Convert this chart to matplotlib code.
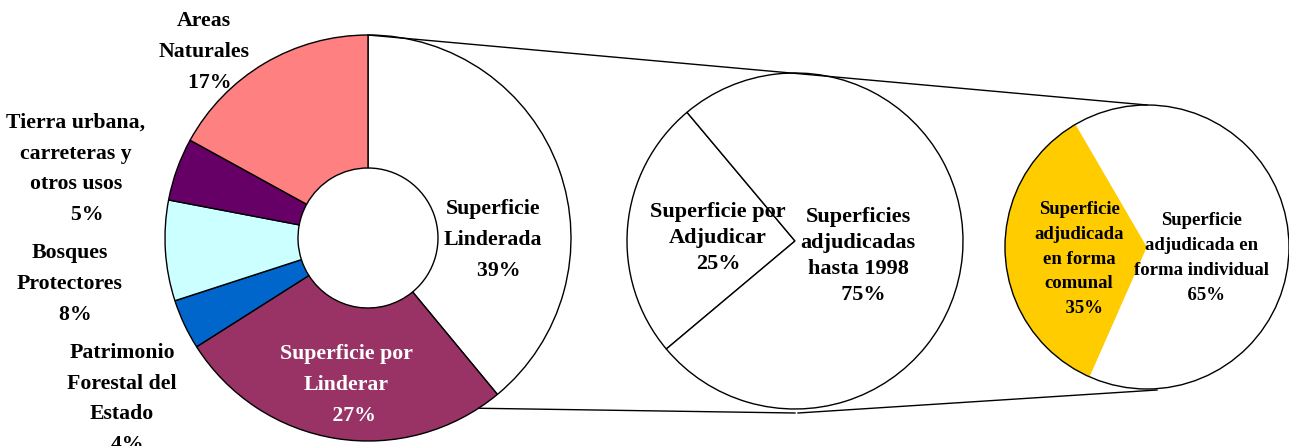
#
# Land tenure breakdown: donut of total surface, with two exploded pies
# detailing the demarcated surface and the adjudicated surface.
#

import matplotlib.pyplot as plt
import numpy as np

plt.rcParams['font.family'] = ['Liberation Serif', 'DejaVu Serif']
plt.rcParams['font.weight'] = 'bold'

# total surface by use (clockwise from 12 o'clock)
land_labels = ['Superficie\nLinderada', 'Superficie por\nLinderar',
               'Patrimonio\nForestal del\nEstado', 'Bosques\nProtectores',
               'Tierra urbana,\ncarreteras y\notros usos', 'Areas\nNaturales']
land_share = [39, 27, 4, 8, 5, 17]
land_colors = ['white', '#993366', '#0066CC', '#CCFFFF', '#660066', '#FF8080']

# demarcated surface
demarc_labels = ['Superficie por\nAdjudicar', 'Superficies\nadjudicadas\nhasta 1998']
demarc_share = [25, 75]

# adjudicated surface
adjud_labels = ['Superficie\nadjudicada\nen forma\ncomunal', 'Superficie\nadjudicada en\nforma individual']
adjud_share = [35, 65]
adjud_colors = ['#FFCC00', 'white']

W, H = 1289, 446
fig = plt.figure(figsize=(W / 100, H / 100), dpi=100)
ax = fig.add_axes([0, 0, 1, 1])

# pie centres and radii in pixel units (y up)
c1, r1, hole = (368, H - 238), 203, 70
c2, r2 = (795, H - 241), 168
c3, r3 = (1147, H - 247), 142

edge = dict(edgecolor='black', linewidth=1.0)

ax.pie(land_share, colors=land_colors, center=c1, radius=r1, startangle=90,
       counterclock=False, wedgeprops=dict(width=r1 - hole, **edge))
ax.pie(demarc_share, colors=['white', 'white'], center=c2, radius=r2,
       startangle=130, wedgeprops=edge)
ax.pie(adjud_share, colors=adjud_colors, center=c3, radius=r3,
       startangle=120.2, wedgeprops=dict(linewidth=0))
ax.add_patch(plt.Circle(c3, r3, fill=False, **edge))

# connector lines between the pies
a = np.deg2rad(-57)
p_left = (c1[0] + r1 * np.cos(a), c1[1] + r1 * np.sin(a))
p_mid = (c2[0], c2[1] - r2 - 4)
p_right = (c3[0] + 10, c3[1] - r3 - 1)
ax.plot([c1[0], c3[0]], [c1[1] + r1, c3[1] + r3], color='black', lw=1.0)
ax.plot([p_left[0], p_mid[0]], [p_left[1], p_mid[1]], color='black', lw=1.0)
ax.plot([p_mid[0] + 3, p_right[0]], [p_mid[1], p_right[1]], color='black', lw=1.0)


def pct(v, pad=''):
    return pad + '%d%%' % v


big = dict(ha='center', va='center', fontsize=15.7, linespacing=1.72)

# labels of the donut
ax.text(493, H - 240, land_labels[0] + '\n' + pct(land_share[0], '  '), **big)
ax.text(346, H - 385, land_labels[1] + '\n' + pct(land_share[1], '   '),
        color='white', **big)
ax.text(122, H - 399, land_labels[2] + '\n' + pct(land_share[2], '  '), **big)
ax.text(70, H - 284, land_labels[3] + '\n' + pct(land_share[3], '  '), **big)
ax.text(76, H - 169, land_labels[4] + '\n' + pct(land_share[4], '    '), **big)
ax.text(204, H - 52, land_labels[5] + '\n' + pct(land_share[5], '  '), **big)

# labels of the demarcated pie
mid = dict(ha='center', va='center', fontsize=16, linespacing=1.4)
ax.text(718, H - 238, demarc_labels[0] + '\n' + pct(demarc_share[0]), **mid)
ax.text(858, H - 256, demarc_labels[1] + '\n' + pct(demarc_share[1], '  '), **mid)

# labels of the adjudicated pie
small = dict(ha='center', va='center', fontsize=13.5, linespacing=1.6)
ax.text(1079, H - 259, adjud_labels[0] + '\n' + pct(adjud_share[0], '  '), **small)
ax.text(1202, H - 258, adjud_labels[1] + '\n' + pct(adjud_share[1], '  '), **small)

ax.set_xlim(0, W)
ax.set_ylim(0, H)
ax.set_aspect('auto')
ax.axis('off')

plt.savefig('out.png', dpi=100)
